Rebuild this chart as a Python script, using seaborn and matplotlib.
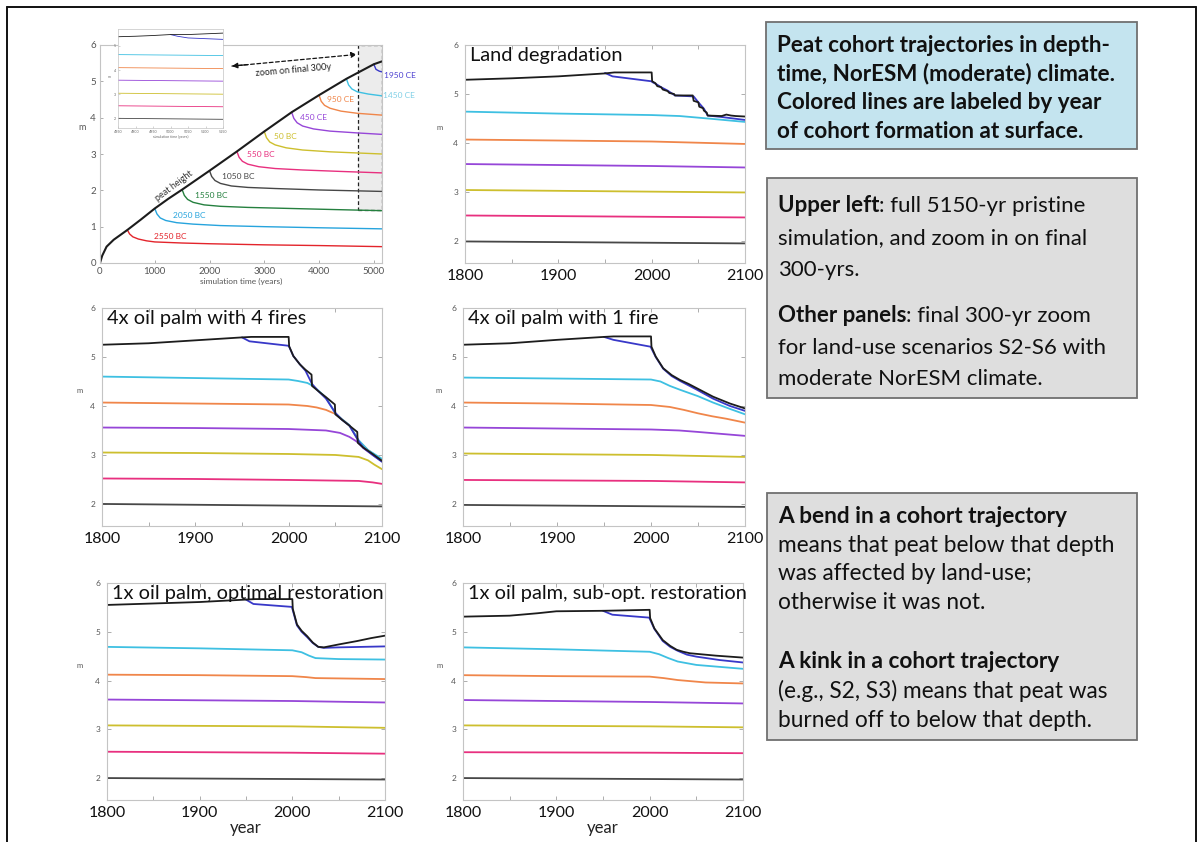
import matplotlib
matplotlib.use("Agg")
import matplotlib.pyplot as plt
from matplotlib.patches import Rectangle
from matplotlib.text import Annotation
from matplotlib.lines import Line2D
import pandas as pd
import seaborn as sns

# ------------------------------------------------------------------
# Pristine 5150-yr run: simulation years since start, height in m
# ------------------------------------------------------------------
pristine = {
    "2550 BC": ([500, 540, 600, 700, 850, 1000, 1500, 2000, 3000, 4000, 5150],
                [0.91, 0.80, 0.72, 0.66, 0.61, 0.58, 0.55, 0.53, 0.50, 0.48, 0.45]),
    "2050 BC": ([1000, 1040, 1100, 1200, 1400, 1700, 2200, 3000, 4000, 5150],
                [1.50, 1.35, 1.24, 1.17, 1.11, 1.07, 1.03, 1.00, 0.97, 0.94]),
    "1550 BC": ([1500, 1540, 1600, 1700, 1900, 2200, 2700, 3500, 4300, 5150],
                [2.02, 1.86, 1.75, 1.67, 1.60, 1.56, 1.53, 1.50, 1.47, 1.44]),
    "1050 BC": ([2000, 2040, 2100, 2200, 2400, 2700, 3200, 4000, 5150],
                [2.54, 2.38, 2.27, 2.19, 2.12, 2.08, 2.05, 2.01, 1.97]),
    "550 BC": ([2500, 2540, 2600, 2700, 2900, 3200, 3700, 4400, 5150],
               [3.07, 2.91, 2.80, 2.72, 2.65, 2.60, 2.56, 2.52, 2.48]),
    "50 BC": ([3000, 3040, 3100, 3200, 3400, 3700, 4200, 5150],
              [3.62, 3.45, 3.33, 3.25, 3.17, 3.11, 3.06, 3.00]),
    "450 CE": ([3500, 3540, 3600, 3700, 3900, 4200, 4700, 5150],
               [4.15, 3.98, 3.86, 3.77, 3.69, 3.63, 3.58, 3.54]),
    "950 CE": ([4000, 4040, 4100, 4200, 4400, 4700, 5150],
               [4.62, 4.45, 4.34, 4.26, 4.18, 4.12, 4.07]),
    "1450 CE": ([4500, 4540, 4600, 4700, 4900, 5150],
                [5.07, 4.90, 4.79, 4.71, 4.65, 4.60]),
    "1950 CE": ([5000, 5040, 5100, 5150],
                [5.47, 5.33, 5.28, 5.26]),
    "peat height": ([0, 40, 120, 250, 500, 750, 1000, 1250, 1500, 2000, 2500,
                     3000, 3500, 4000, 4500, 5000, 5150],
                    [0.0, 0.20, 0.45, 0.64, 0.91, 1.20, 1.50, 1.77, 2.02, 2.54,
                     3.07, 3.62, 4.15, 4.62, 5.07, 5.47, 5.55]),
}

# final 300 years of the pristine run (inset)
pristine_final = {
    "1050 BC": ([4850, 5150], [2.00, 1.96]),
    "550 BC": ([4850, 5150], [2.52, 2.48]),
    "50 BC": ([4850, 5150], [3.04, 3.00]),
    "450 CE": ([4850, 5150], [3.58, 3.54]),
    "950 CE": ([4850, 5150], [4.10, 4.06]),
    "1450 CE": ([4850, 5150], [4.64, 4.60]),
    "1950 CE": ([5000, 5020, 5050, 5100, 5150], [5.47, 5.40, 5.33, 5.30, 5.27]),
    "peat height": ([4850, 4900, 4950, 5000, 5050, 5100, 5150],
                    [5.38, 5.40, 5.43, 5.47, 5.47, 5.50, 5.53]),
}

# ------------------------------------------------------------------
# Land-use scenarios, calendar years 1800-2100, height in m
# ------------------------------------------------------------------
land_degradation = {
    "1050 BC": ([1800, 2100], [1.99, 1.95]),
    "550 BC": ([1800, 2100], [2.52, 2.48]),
    "50 BC": ([1800, 2100], [3.04, 2.99]),
    "450 CE": ([1800, 2000, 2100], [3.57, 3.53, 3.50]),
    "950 CE": ([1800, 2000, 2100], [4.07, 4.03, 3.98]),
    "1450 CE": ([1800, 1900, 2000, 2030, 2060, 2100], [4.64, 4.60, 4.57, 4.55, 4.50, 4.43]),
    "1950 CE": ([1950, 1958, 1999.5, 2001, 2005, 2010, 2017, 2025, 2045, 2050, 2056, 2060, 2075, 2100],
                [5.43, 5.36, 5.26, 5.24, 5.20, 5.14, 5.07, 4.97, 4.95, 4.83, 4.70, 4.56, 4.53, 4.47]),
    "peat height": ([1800, 1850, 1900, 1950, 1960, 2000, 2000.5, 2004, 2006, 2010, 2012, 2017,
                     2019, 2024, 2025, 2044, 2045, 2050, 2051, 2055, 2056, 2059, 2060, 2075,
                     2080, 2085, 2090, 2100],
                    [5.29, 5.32, 5.36, 5.42, 5.44, 5.44, 5.26, 5.22, 5.16, 5.14, 5.09, 5.06,
                     5.02, 5.00, 4.97, 4.97, 4.86, 4.83, 4.74, 4.71, 4.66, 4.62, 4.56, 4.55,
                     4.58, 4.56, 4.55, 4.54]),
}

oil_palm_4_fires = {
    "1050 BC": ([1800, 2100], [2.00, 1.95]),
    "550 BC": ([1800, 1900, 2000, 2075, 2090, 2100], [2.52, 2.51, 2.49, 2.47, 2.44, 2.41]),
    "50 BC": ([1800, 1900, 2000, 2050, 2075, 2085, 2092, 2100], [3.05, 3.04, 3.02, 3.00, 2.96, 2.89, 2.80, 2.71]),
    "450 CE": ([1800, 1900, 2000, 2040, 2055, 2065, 2070, 2074, 2080, 2090, 2100],
               [3.56, 3.55, 3.53, 3.50, 3.45, 3.37, 3.31, 3.26, 3.14, 3.00, 2.87]),
    "950 CE": ([1800, 1900, 2000, 2020, 2030, 2040, 2046, 2050, 2057, 2065, 2075, 2085, 2100],
               [4.07, 4.05, 4.03, 4.00, 3.97, 3.92, 3.87, 3.84, 3.73, 3.61, 3.29, 3.10, 2.90]),
    "1450 CE": ([1800, 1900, 2000, 2010, 2020, 2025, 2032, 2040, 2050, 2057, 2065, 2075, 2085, 2100],
                [4.60, 4.57, 4.54, 4.51, 4.47, 4.42, 4.31, 4.17, 3.85, 3.73, 3.61, 3.30, 3.10, 2.92]),
    "1950 CE": ([1950, 1958, 1999.5, 2000.5, 2005, 2012, 2018, 2025, 2032, 2040, 2050, 2057, 2065, 2075, 2080, 2090, 2100],
                [5.40, 5.32, 5.23, 5.21, 5.02, 4.85, 4.72, 4.45, 4.30, 4.15, 3.86, 3.72, 3.60, 3.28, 3.15, 3.00, 2.86]),
    "peat height": ([1800, 1850, 1900, 1950, 1960, 2000, 2000.5, 2005, 2012, 2018, 2024.5, 2025,
                     2032, 2040, 2049.5, 2050, 2057, 2065, 2073.5, 2074, 2080, 2090, 2100],
                    [5.25, 5.28, 5.34, 5.40, 5.41, 5.41, 5.22, 5.02, 4.85, 4.74, 4.64, 4.41,
                     4.30, 4.18, 4.03, 3.83, 3.72, 3.60, 3.47, 3.25, 3.15, 3.02, 2.88]),
}

oil_palm_1_fire = {
    "1050 BC": ([1800, 2100], [1.98, 1.94]),
    "550 BC": ([1800, 2000, 2100], [2.49, 2.47, 2.44]),
    "50 BC": ([1800, 2000, 2100], [3.03, 3.00, 2.96]),
    "450 CE": ([1800, 1900, 2000, 2030, 2050, 2075, 2100], [3.56, 3.54, 3.52, 3.50, 3.47, 3.43, 3.39]),
    "950 CE": ([1800, 1900, 2000, 2020, 2035, 2050, 2065, 2080, 2100],
               [4.07, 4.05, 4.02, 3.98, 3.92, 3.85, 3.79, 3.74, 3.66]),
    "1450 CE": ([1800, 1900, 2000, 2010, 2020, 2031, 2050, 2066, 2084, 2100],
                [4.58, 4.56, 4.54, 4.50, 4.41, 4.33, 4.20, 4.07, 3.94, 3.83]),
    "1950 CE": ([1950, 1960, 1999.5, 2005, 2013, 2022, 2031, 2049, 2066, 2084, 2100],
                [5.41, 5.35, 5.21, 5.00, 4.76, 4.61, 4.51, 4.33, 4.15, 4.00, 3.90]),
    "peat height": ([1800, 1850, 1900, 1950, 1960, 2000, 2000.5, 2005, 2013, 2022, 2031, 2040,
                     2049, 2066, 2084, 2100],
                    [5.25, 5.28, 5.35, 5.41, 5.42, 5.42, 5.21, 5.01, 4.77, 4.63, 4.53, 4.45,
                     4.36, 4.19, 4.05, 3.95]),
}

optimal_restoration = {
    "1050 BC": ([1800, 2100], [2.00, 1.97]),
    "550 BC": ([1800, 2000, 2100], [2.54, 2.52, 2.50]),
    "50 BC": ([1800, 2000, 2100], [3.08, 3.06, 3.03]),
    "450 CE": ([1800, 2000, 2100], [3.61, 3.58, 3.55]),
    "950 CE": ([1800, 1900, 2000, 2015, 2025, 2100], [4.12, 4.11, 4.09, 4.07, 4.05, 4.03]),
    "1450 CE": ([1800, 1900, 2000, 2010, 2018, 2025, 2050, 2100],
                [4.69, 4.66, 4.62, 4.58, 4.51, 4.46, 4.44, 4.43]),
    "1950 CE": ([1950, 1958, 1999.5, 2005, 2010, 2016, 2022, 2028, 2034, 2050, 2075, 2100],
                [5.66, 5.57, 5.51, 5.13, 5.00, 4.89, 4.77, 4.69, 4.67, 4.68, 4.69, 4.70]),
    "peat height": ([1800, 1850, 1900, 1950, 1960, 2000, 2000.5, 2005, 2010, 2016, 2022, 2028,
                     2034, 2050, 2070, 2085, 2100],
                    [5.55, 5.58, 5.61, 5.66, 5.67, 5.67, 5.47, 5.15, 5.02, 4.91, 4.78, 4.69,
                     4.68, 4.74, 4.81, 4.87, 4.92]),
}

suboptimal_restoration = {
    "1050 BC": ([1800, 2100], [2.00, 1.97]),
    "550 BC": ([1800, 2000, 2100], [2.53, 2.52, 2.51]),
    "50 BC": ([1800, 2000, 2100], [3.08, 3.06, 3.04]),
    "450 CE": ([1800, 2000, 2100], [3.60, 3.56, 3.53]),
    "950 CE": ([1800, 1900, 2000, 2015, 2030, 2060, 2100], [4.11, 4.09, 4.08, 4.05, 4.01, 3.96, 3.94]),
    "1450 CE": ([1800, 1900, 2000, 2010, 2020, 2030, 2050, 2075, 2100],
                [4.68, 4.64, 4.59, 4.54, 4.46, 4.39, 4.32, 4.28, 4.24]),
    "1950 CE": ([1950, 1960, 1999.5, 2005, 2014, 2022, 2030, 2040, 2050, 2075, 2100],
                [5.43, 5.35, 5.29, 5.06, 4.81, 4.69, 4.61, 4.53, 4.49, 4.42, 4.37]),
    "peat height": ([1800, 1850, 1880, 1900, 1950, 2000, 2000.5, 2005, 2014, 2022, 2029, 2036,
                     2043, 2071, 2100],
                    [5.31, 5.33, 5.38, 5.42, 5.43, 5.45, 5.28, 5.07, 4.83, 4.71, 4.63, 4.59,
                     4.56, 4.51, 4.47]),
}

scenario_titles = ["Land degradation", "4x oil palm with 4 fires", "4x oil palm with 1 fire",
                   "1x oil palm, optimal restoration", "1x oil palm, sub-opt. restoration"]
year_ticks = [1800, 1900, 2000, 2100]
sim_ticks = [0, 1000, 2000, 3000, 4000, 5000]
inset_ticks = [4850, 4900, 4950, 5000, 5050, 5100, 5150]

# ------------------------------------------------------------------
# Styling
# ------------------------------------------------------------------
palette = {
    "2550 BC": "#e3242b", "2050 BC": "#27a4dd", "1550 BC": "#25803f",
    "1050 BC": "#474747", "550 BC": "#e8307f", "50 BC": "#cdbf2e",
    "450 CE": "#9646d8", "950 CE": "#f0864a", "1450 CE": "#3ec0e2",
    "1950 CE": "#3838c8", "peat height": "#1c1c1c",
}
label_colors = dict(palette, **{"1450 CE": "#7fcfe6", "1950 CE": "#4b3fd0"})
draw_order = ["2550 BC", "2050 BC", "1550 BC", "1050 BC", "550 BC", "50 BC",
              "450 CE", "950 CE", "1450 CE", "1950 CE", "peat height"]

sns.set_theme(style="white")
plt.rcParams["font.family"] = ["Lato", "DejaVu Sans"]
plt.rcParams["axes.edgecolor"] = "#c4c4c4"
plt.rcParams["axes.linewidth"] = 0.8

W, H = 1199, 842
fig = plt.figure(figsize=(W / 100, H / 100), dpi=100)
fig.patch.set_facecolor("white")


def rect(x0, y0, x1, y1):
    return [x0 / W, 1 - y1 / H, (x1 - x0) / W, (y1 - y0) / H]


def long_frame(lines, xname):
    parts = [pd.DataFrame({xname: xs, "depth": ys, "cohort": name})
             for name, (xs, ys) in lines.items()]
    return pd.concat(parts, ignore_index=True)


def draw_lines(ax, lines, xname, lw):
    order = [c for c in draw_order if c in lines]
    sns.lineplot(data=long_frame(lines, xname), x=xname, y="depth", hue="cohort",
                 hue_order=order, palette=palette, estimator=None, sort=False,
                 legend=False, linewidth=lw, ax=ax)


def style_zoom(ax, title, bottom=False, mx=-0.085):
    ax.set_xlim(1800, 2100)
    ax.set_ylim(1.55, 6.0)
    ax.set_xticks(year_ticks)
    ax.set_xticks([1850, 1950, 2050], minor=True)
    ax.set_yticks([2, 3, 4, 5, 6])
    ax.tick_params(axis="x", which="both", direction="in", top=True, bottom=True,
                   length=3, width=0.6, color="#a0a0a0", labelsize=11.5, pad=4,
                   labelcolor="#111111")
    ax.tick_params(axis="y", which="both", direction="in", left=True, right=True,
                   length=3, width=0.6, color="#a0a0a0", labelsize=6, pad=5,
                   labelcolor="#555555")
    ax.set_ylabel("m", fontsize=5.5, color="#555555", rotation=0, va="center")
    ax.yaxis.set_label_coords(mx, 0.62)
    if bottom:
        ax.set_xlabel("year", fontsize=12, color="#222222", labelpad=0)
    else:
        ax.set_xlabel("")
    ax.text(0.018, 0.99, title, transform=ax.transAxes, ha="left", va="top",
            fontsize=14.4, color="#111111")


# ------------------------------------------------------------------
# Upper left: full pristine simulation
# ------------------------------------------------------------------
ax0 = fig.add_axes(rect(100, 45, 382, 263))
ax0.add_patch(Rectangle((4710, 1.45), 440, 4.55, facecolor="#ececec", edgecolor="#222222",
                        linestyle=(0, (3, 2)), linewidth=0.9, zorder=0.5))
draw_lines(ax0, pristine, "t", 1.0)
ax0.get_lines()[-1].set_linewidth(1.5)
ax0.set_xlim(0, 5150)
ax0.set_ylim(0, 6)
ax0.set_xticks(sim_ticks)
ax0.set_yticks(range(7))
ax0.tick_params(axis="both", direction="in", length=2.5, width=0.6, color="#a0a0a0",
                labelsize=7, labelcolor="#555555", bottom=True, left=True, pad=3)
ax0.set_xlabel("simulation time (years)", fontsize=6, color="#555555", labelpad=1)
ax0.set_ylabel("m", fontsize=6.5, color="#555555", rotation=0, va="center")
ax0.yaxis.set_label_coords(-0.064, 0.62)

label_pos = {
    "2550 BC": (980, 0.74), "2050 BC": (1340, 1.31), "1550 BC": (1740, 1.87),
    "1050 BC": (2230, 2.39), "550 BC": (2680, 2.99), "50 BC": (3170, 3.49),
    "450 CE": (3660, 4.00), "950 CE": (4150, 4.49), "1450 CE": (5175, 4.60),
    "1950 CE": (5180, 5.15),
}
for name, (tx, ty) in label_pos.items():
    ax0.text(tx, ty, name, fontsize=6, color=label_colors[name], ha="left", va="center",
             clip_on=False)
ax0.text(1360, 2.12, "peat height", fontsize=6.5, color="#333333", rotation=37,
         ha="center", va="center")

# dashed double arrow pointing at the final-300-yr window
ax0.annotate("", xy=(4690, 5.74), xytext=(2410, 5.42),
             arrowprops=dict(arrowstyle="-|>", linestyle=(0, (3, 2)), color="#111111",
                             lw=0.9, mutation_scale=8, shrinkA=0, shrinkB=0))
ax0.annotate("", xy=(2410, 5.42), xytext=(2700, 5.46),
             arrowprops=dict(arrowstyle="-|>", color="#111111", lw=0.9,
                             mutation_scale=8, shrinkA=0, shrinkB=0))
ax0.text(3540, 5.30, "zoom on final 300y", fontsize=6.5, color="#222222", rotation=5,
         ha="center", va="center")

# inset: final 300 years of the pristine run
axi = fig.add_axes(rect(118, 29, 223, 128))
axi.set_facecolor("white")
draw_lines(axi, pristine_final, "t", 0.6)
axi.set_xlim(4850, 5150)
axi.set_ylim(1.6, 5.7)
axi.set_xticks(inset_ticks)
axi.set_yticks([2, 3, 4, 5])
axi.tick_params(axis="both", direction="in", length=1.5, width=0.4, color="#b0b0b0",
                labelsize=2.6, labelcolor="#666666", bottom=True, left=True, pad=1.5)
axi.set_xlabel("simulation time (years)", fontsize=2.6, color="#666666", labelpad=1)
axi.set_ylabel("m", fontsize=2.6, color="#666666", rotation=0, labelpad=3)
for s in axi.spines.values():
    s.set_linewidth(0.5)

# ------------------------------------------------------------------
# Land-use scenario panels
# ------------------------------------------------------------------
panels = [
    (rect(465, 45, 745, 263), land_degradation, scenario_titles[0], False, -0.089),
    (rect(102, 308, 382, 526), oil_palm_4_fires, scenario_titles[1], False, -0.079),
    (rect(463, 308, 745, 526), oil_palm_1_fire, scenario_titles[2], False, -0.085),
    (rect(107, 583, 385, 800), optimal_restoration, scenario_titles[3], True, -0.097),
    (rect(463, 583, 743, 800), suboptimal_restoration, scenario_titles[4], True, -0.085),
]
for pos, lines, title, bottom, mx in panels:
    ax = fig.add_axes(pos)
    draw_lines(ax, lines, "year", 1.3)
    style_zoom(ax, title, bottom, mx)

# ------------------------------------------------------------------
# Explanatory text boxes
# ------------------------------------------------------------------
def box(x0, y0, x1, y1, fc):
    fig.add_artist(Rectangle((x0 / W, 1 - y1 / H), (x1 - x0) / W, (y1 - y0) / H,
                             transform=fig.transFigure, facecolor=fc,
                             edgecolor="#707070", linewidth=1.3))


def line(x, y, bold_part, rest="", size=14.5):
    t = fig.text(x / W, 1 - y / H, bold_part, fontsize=size, fontweight="bold",
                 ha="left", va="baseline", color="#111111")
    if rest:
        fig.add_artist(Annotation(rest, xy=(1, 0), xycoords=t, ha="left", va="bottom",
                                  fontsize=size, color="#111111"))


def plain(x, y, s, size=14.5):
    fig.text(x / W, 1 - y / H, s, fontsize=size, ha="left", va="baseline", color="#111111")


box(766, 22, 1137, 149, "#c4e4ef")
for y, s in zip([52, 80.5, 109, 137.5],
                ["Peat cohort trajectories in depth-", "time, NorESM (moderate) climate.",
                 "Colored lines are labeled by year", "of cohort formation at surface."]):
    line(777, y, s, size=16.2)

box(767, 178, 1137, 398, "#dedede")
line(778, 212, "Upper left", ": full 5150-yr pristine", size=16)
plain(778, 244, "simulation, and zoom in on final", size=16)
plain(778, 276, "300-yrs.", size=16)
line(778, 322, "Other panels", ": final 300-yr zoom", size=16)
plain(778, 354, "for land-use scenarios S2-S6 with", size=16)
plain(778, 385, "moderate NorESM climate.", size=16)

box(767, 493, 1137, 740, "#dedede")
line(778, 523, "A bend in a cohort trajectory", size=16.3)
plain(778, 552, "means that peat below that depth", size=16.3)
plain(778, 580, "was affected by land-use;", size=16.3)
plain(778, 609, "otherwise it was not.", size=16.3)
line(778, 668, "A kink in a cohort trajectory", size=16.3)
plain(778, 698, "(e.g., S2, S3) means that peat was", size=16.3)
plain(778, 727, "burned off to below that depth.", size=16.3)

# outer frame
for xs, ys in [((7, 1196), (7, 7)), ((7, 7), (7, 842)), ((1196, 1196), (7, 842))]:
    fig.add_artist(Line2D([x / W for x in xs], [1 - y / H for y in ys],
                          transform=fig.transFigure, color="#111111", linewidth=1.4))

fig.savefig("out.png", dpi=100, facecolor="white")
